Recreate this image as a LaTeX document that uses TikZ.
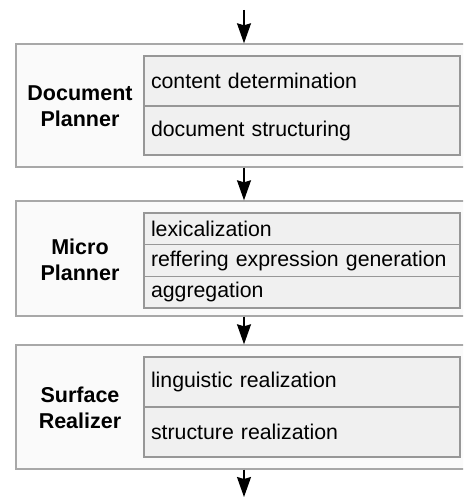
\documentclass[tikz,border=0pt]{standalone}
\usepackage{fontspec}
\setmainfont{Liberation Sans}
\usetikzlibrary{arrows.meta}
\definecolor{outerline}{HTML}{A8A8A8}
\definecolor{outerfill}{HTML}{FAFAFA}
\definecolor{innerline}{HTML}{979797}
\definecolor{innerfill}{HTML}{F0F0F0}

\begin{document}
\begin{tikzpicture}[x=1pt,y=-1pt,
        every node/.style={font=\fontsize{21.3}{25.5}\selectfont},
        stage/.style={draw=outerline, fill=outerfill, line width=1.4pt, minimum width=456pt, inner sep=0pt},
        task/.style={draw=innerline, fill=innerfill, line width=1.3pt, text width=302pt, inner xsep=7pt, inner ysep=0pt, align=left},
        title/.style={font=\fontsize{21.5}{25.5}\selectfont\bfseries, align=center},
        flow/.style={-{Stealth[length=20pt,width=14pt,inset=2pt]}, line width=1.5pt}]
        \clip (0,0) rectangle (463,497);

        \node[stage, minimum height=123pt] (dp) at (244, 105.5) {};
        \node[title] (dpt) at (80, 106) { Document\\Planner };
        \node[task, minimum height=50pt] (cd) at (302, 81) { content determination };
        \node[task, minimum height=49pt] (ds) at (302, 130.5) { document structuring };

        \node[stage, minimum height=115pt] (mp) at (244, 258.5) {};
        \node[title] (mpt) at (80, 260) { Micro\\Planner };
        \node[task, minimum height=31.7pt] (lx) at (302, 228.8) { lexicalization };
        \node[task, minimum height=31.7pt] (re) at (302, 260.5) { reffering expression generation };
        \node[task, minimum height=31.7pt] (ag) at (302, 292.2) { aggregation };

        \node[stage, minimum height=124pt] (sr) at (244, 407) {};
        \node[title] (srt) at (80, 408) { Surface\\Realizer };
        \node[task, minimum height=50pt] (lr) at (302, 382) { linguistic realization };
        \node[task, minimum height=50pt] (st) at (302, 432) { structure realization };

        \coordinate (in) at (244, 10);
        \coordinate (out) at (244, 497);

        \draw[flow] (in) to (dp.north);
        \draw[flow] (dp.south) to (mp.north);
        \draw[flow] (mp.south) to (sr.north);
        \draw[flow] (sr.south) to (out);

    \end{tikzpicture}
\end{document}
